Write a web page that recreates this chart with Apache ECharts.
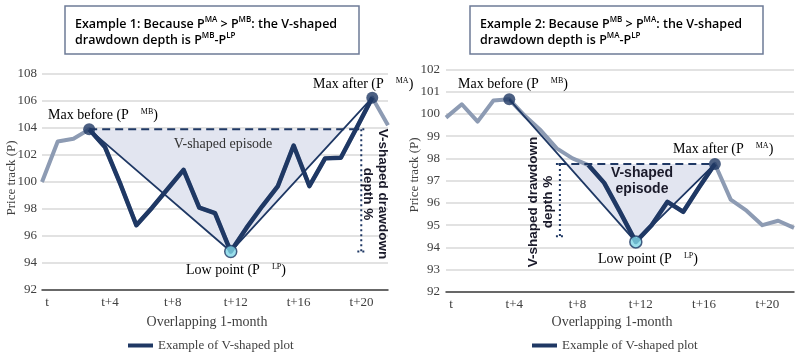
<!DOCTYPE html>
<html>
<head>
<meta charset="utf-8">
<script src="https://cdn.jsdelivr.net/npm/echarts@6/dist/echarts.min.js"></script>
<style>
  html, body { margin: 0; padding: 0; background: #fff; }
  #chart { width: 800px; height: 354px; }
</style>
</head>
<body>
<div id="chart"></div>
<script>
// months after t, one label every 4
const tickLabels = ['t', 't+4', 't+8', 't+12', 't+16', 't+20'];

// Example 1 : P(MA) > P(MB)
const leftPrice = [100, 103.0, 103.2, 103.9, 102.6, 99.8, 96.8, 98.1, 99.5, 100.9, 98.1, 97.7,
  94.85, 96.6, 98.2, 99.7, 102.7, 99.7, 101.75, 101.8, 104.0, 106.25, 104.2];
const leftEpisode = [3, 21];      // dark part of the track
const leftV = [3, 12, 21];        // max before, low point, max after
const leftDashEnd = 20.2;
const leftDepthX = 20.3;

// Example 2 : P(MB) > P(MA)
const rightPrice = [99.83, 100.43, 99.65, 100.6, 100.65, 99.9, 99.25, 98.45, 98.0, 97.7, 96.9, 95.6,
  94.25, 95.0, 96.05, 95.6, 96.7, 97.75, 96.15, 95.65, 95.0, 95.2, 94.88];
const rightEpisode = [9, 17];
const rightV = [4, 12, 17];
const rightDashStart = 7.1;
const rightDepthX = 7.2;
const rightDepthBottom = 94.5;

const navy = '#1f3864';
const grayLine = '#8d9bb3';
const shadeColor = '#e2e5f0';
const cyan = '#7fd6e6';
const serif = 'Liberation Serif';
const sans = 'Liberation Sans';
const legendName = 'Example of V-shaped plot';

const chart = echarts.init(document.getElementById('chart'));

function xy(vals) { return vals.map((v, i) => [i, v]); }

function seg(gi, pts, style, z) {
  return {
    type: 'line', xAxisIndex: gi, yAxisIndex: gi, data: pts, symbol: 'none',
    silent: true, z: z || 3, lineStyle: style
  };
}

function shade(gi, pts) {
  return {
    type: 'custom', xAxisIndex: gi, yAxisIndex: gi, silent: true, z: 1,
    data: [pts[0]],
    renderItem: (params, api) => ({
      type: 'polygon',
      shape: { points: pts.map(p => api.coord(p)) },
      style: { fill: shadeColor }
    })
  };
}

function buildSeries(gi, price, episode, v, dashFrom, dashTo, depthX, level, depthBottom, shadePts) {
  const dark = price.map((p, i) => [i, (i >= episode[0] && i <= episode[1]) ? p : null]);
  const cap = 0.25;
  const dot = { color: navy, width: 2, type: [2, 3] };
  return [
    shade(gi, shadePts),
    seg(gi, xy(price), { color: grayLine, width: 4, join: 'round' }, 2),
    seg(gi, v.map(i => [i, price[i]]), { color: navy, width: 1.8 }, 3),
    seg(gi, [[dashFrom, level], [dashTo, level]], { color: navy, width: 2, type: [8, 5] }, 3),
    seg(gi, [[depthX, level], [depthX, depthBottom]], dot, 3),
    seg(gi, [[depthX - cap, level], [depthX + cap, level]], dot, 3),
    seg(gi, [[depthX - cap, depthBottom], [depthX + cap, depthBottom]], dot, 3),
    {
      name: legendName, type: 'line', xAxisIndex: gi, yAxisIndex: gi, data: dark,
      symbol: 'none', z: 4, lineStyle: { color: navy, width: 4.5, join: 'round' }, itemStyle: { color: navy }
    },
    {
      type: 'scatter', xAxisIndex: gi, yAxisIndex: gi, z: 6, symbolSize: 12, silent: true,
      data: [
        { value: [v[0], price[v[0]]], itemStyle: { color: navy } },
        { value: [v[1], price[v[1]]], itemStyle: { color: cyan, borderColor: navy, borderWidth: 1.5 } },
        { value: [v[2], price[v[2]]], itemStyle: { color: navy } }
      ]
    }
  ];
}

// left: dashed at P(MB), thin line low->MA crosses it
const lLevel = leftPrice[leftV[0]];
const lLow = leftPrice[leftV[1]], lMA = leftPrice[leftV[2]];
const lCross = leftV[1] + (leftV[2] - leftV[1]) * (lLevel - lLow) / (lMA - lLow);
const leftShade = [[leftV[0], lLevel], [leftV[1], lLow], [lCross, lLevel]];

// right: dashed at P(MA), thin line MB->low crosses it
const rLevel = rightPrice[rightV[2]];
const rMB = rightPrice[rightV[0]], rLow = rightPrice[rightV[1]];
const rCross = rightV[0] + (rightV[1] - rightV[0]) * (rMB - rLevel) / (rMB - rLow);
const rightShade = [[rCross, rLevel], [rightV[1], rLow], [rightV[2], rLevel]];

function xAxis(gi) {
  return {
    type: 'value', gridIndex: gi, min: 0, max: 22, interval: 4,
    axisLine: { show: true, lineStyle: { color: '#404040', width: 1.5 } },
    axisTick: { show: false },
    splitLine: { show: false },
    axisLabel: {
      formatter: v => tickLabels[v / 4] || '', fontFamily: serif, fontSize: 13, color: '#404040',
      margin: 6, padding: [0, 0, 0, 10]
    }
  };
}

function yAxis(gi, min, max, interval, margin) {
  return {
    type: 'value', gridIndex: gi, min: min, max: max, interval: interval,
    axisLine: { show: false }, axisTick: { show: false },
    splitLine: { lineStyle: { color: '#d9d9d9', width: 1.5 } },
    axisLabel: { fontFamily: serif, fontSize: 13, color: '#404040', margin: margin }
  };
}

const note = { fontFamily: serif, fontSize: 14, color: '#2f4b7c' };
const sup = { fontFamily: serif, fontSize: 8, color: '#2f4b7c', verticalAlign: 'top', padding: [0, 0, 0, 12] };
const richNote = { a: note, s: sup };

function noteText(x, y, text, align) {
  return {
    type: 'text', x: x, y: y, z: 100, silent: true,
    style: { text: text, rich: richNote, align: align || 'left', verticalAlign: 'middle' }
  };
}

function plainText(x, y, text, font, extra) {
  return {
    type: 'text', x: x, y: y, z: 100, silent: true, rotation: (extra && extra.rotation) || 0,
    style: Object.assign({ text: text, align: 'center', verticalAlign: 'middle' }, font)
  };
}

const boxRich = {
  b: { fontFamily: 'Open Sans', fontWeight: 600, fontSize: 12.5, color: '#222', lineHeight: 16 },
  p: { fontFamily: 'Open Sans', fontWeight: 600, fontSize: 12.5, color: '#3e6ec2', lineHeight: 16 },
  s: { fontFamily: 'Open Sans', fontWeight: 600, fontSize: 8, color: '#3e6ec2', verticalAlign: 'top', lineHeight: 16 }
};

function titleBox(x, w, text) {
  return {
    type: 'group', x: x, y: 6, z: 100, silent: true,
    children: [
      { type: 'rect', shape: { x: 0, y: 0, width: w, height: 48 }, style: { fill: '#fff', stroke: '#6d7b97', lineWidth: 1.5 } },
      { type: 'text', x: 10, y: 10, style: { text: text, rich: boxRich } }
    ]
  };
}

const axisFont = { fontFamily: serif, fontSize: 13, fill: '#404040' };
const nameFont = { fontFamily: serif, fontSize: 14, fill: '#404040' };
const boldSans = { fontFamily: sans, fontWeight: 'bold', fontSize: 13.5, fill: '#1a1a2a', lineHeight: 15 };

const option = {
  animation: false,
  grid: [
    { left: 42, right: 412, top: 74, bottom: 64 },
    { left: 446, right: 6, top: 69.3, bottom: 62 }
  ],
  xAxis: [xAxis(0), xAxis(1)],
  yAxis: [yAxis(0, 92, 108, 2, 5), yAxis(1, 92, 102, 1, 6)],
  legend: [
    {
      left: 123, top: 334, itemWidth: 25, itemHeight: 4, itemGap: 6,
      data: [{ name: legendName, icon: 'rect' }],
      textStyle: { fontFamily: serif, fontSize: 13, color: '#404040' }, selectedMode: false
    },
    {
      left: 527, top: 334, itemWidth: 25, itemHeight: 4, itemGap: 6,
      data: [{ name: legendName, icon: 'rect' }],
      textStyle: { fontFamily: serif, fontSize: 13, color: '#404040' }, selectedMode: false
    }
  ],
  series: [].concat(
    buildSeries(0, leftPrice, leftEpisode, leftV, leftV[0], leftDashEnd, leftDepthX, lLevel, lLow, leftShade),
    buildSeries(1, rightPrice, rightEpisode, rightV, rightDashStart, rightV[2], rightDepthX, rLevel, rightDepthBottom, rightShade)
  ),
  graphic: [
    titleBox(65, 294, '{b|Example 1: Because }{p|P}{s|MA}{b| > }{p|P}{s|MB}{b|: the V-shaped}\n{b|drawdown depth is }{p|P}{s|MB}{p|-P}{s|LP}'),
    titleBox(470, 293, '{b|Example 2: Because }{p|P}{s|MB}{b| > }{p|P}{s|MA}{b|: the V-shaped}\n{b|drawdown depth is }{p|P}{s|MA}{p|-P}{s|LP}'),

    plainText(12, 178, 'Price track (P)', axisFont, { rotation: Math.PI / 2 }),
    plainText(415, 175, 'Price track (P)', axisFont, { rotation: Math.PI / 2 }),
    plainText(207, 322, 'Overlapping 1-month', nameFont),
    plainText(612, 322, 'Overlapping 1-month', nameFont),

    // example 1 notes
    noteText(48, 115, '{a|Max before (P}{s|MB}{a|)}'),
    noteText(313, 84, '{a|Max after (P}{s|MA}{a|)}'),
    noteText(186, 270, '{a|Low point (P}{s|LP}{a|)}'),
    plainText(223, 144, 'V-shaped episode', { fontFamily: serif, fontSize: 14, fill: '#333' }),
    plainText(375.5, 194, 'V-shaped drawdown\ndepth %', boldSans, { rotation: -Math.PI / 2 }),

    // example 2 notes
    noteText(458, 84, '{a|Max before (P}{s|MB}{a|)}'),
    noteText(673, 149, '{a|Max after (P}{s|MA}{a|)}'),
    noteText(598, 259, '{a|Low point (P}{s|LP}{a|)}'),
    plainText(642, 181, 'V-shaped\nepisode', { fontFamily: sans, fontWeight: 'bold', fontSize: 14, fill: '#1a1a2a', lineHeight: 16 }),
    plainText(540.5, 202, 'V-shaped drawdown\ndepth %', boldSans, { rotation: Math.PI / 2 })
  ]
};

chart.setOption(option);
</script>
</body>
</html>
